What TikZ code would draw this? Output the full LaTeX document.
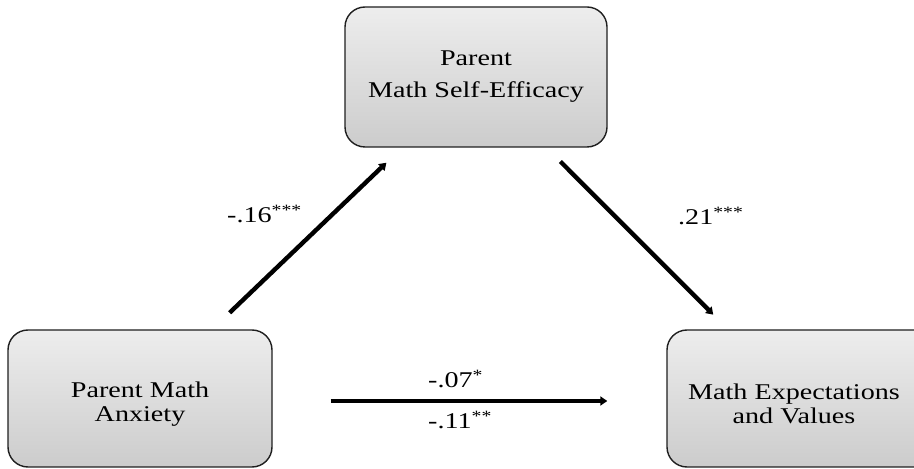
\documentclass[tikz,border=0pt]{standalone}
\usepackage{fontspec}
\setmainfont{Liberation Serif}[FakeStretch=1.25]
\usetikzlibrary{arrows.meta,calc}
\definecolor{boxtop}{gray}{0.93}
\definecolor{boxbot}{gray}{0.80}
\definecolor{boxline}{gray}{0.12}
\tikzset{
  varbox/.style={draw=boxline, line width=1.4pt, rounded corners=20pt,
    top color=boxtop, bottom color=boxbot, align=center, inner sep=0pt,
    font=\fontsize{22.5}{24}\selectfont},
  path/.style={line width=4.4pt, -{Triangle[length=7pt,width=9pt]}},
  lbl/.style={font=\fontsize{22.5}{24}\selectfont, inner sep=0pt, anchor=base west}
}
\begin{document}
\begin{tikzpicture}[x=1pt,y=1pt]
\useasboundingbox (0,0) rectangle (914,469);
\clip (0,0) rectangle (914,469);
\node[varbox, minimum width=262pt, minimum height=140pt,
      font=\fontsize{22.5}{32}\selectfont] (pse) at (476,392)
  {Parent\\Math Self-Efficacy};
\node[varbox, minimum width=264pt, minimum height=137pt] (anx) at (140,70.5)
  {\rule{0pt}{27pt}Parent Math\\Anxiety};
\node[varbox, minimum width=284pt, minimum height=137pt] (mev) at (809,70.5)
  {\rule{0pt}{27pt}Math Expectations\hspace*{30pt}\\and Values\hspace*{30pt}};
\draw[path, shorten <=124pt, shorten >=124pt] (anx.center) -- (pse.center);
\draw[path, shorten <=119.5pt, shorten >=118.5pt] (pse.center) -- ([xshift=-12pt]mev.center);
\draw[path, shorten <=58pt, shorten >=59pt] ([yshift=-2.5pt]anx.east) -- ([yshift=-2.5pt]mev.west);
\node[lbl] (l1) at (227,246) {-.16\textsuperscript{***}};
\node[lbl] (l2) at (678,244) {.21\textsuperscript{***}};
\node[lbl] (l3) at (428,81) {-.07\textsuperscript{*}};
\node[lbl] (l4) at (428,40) {-.11\textsuperscript{**}};
\end{tikzpicture}
\end{document}
